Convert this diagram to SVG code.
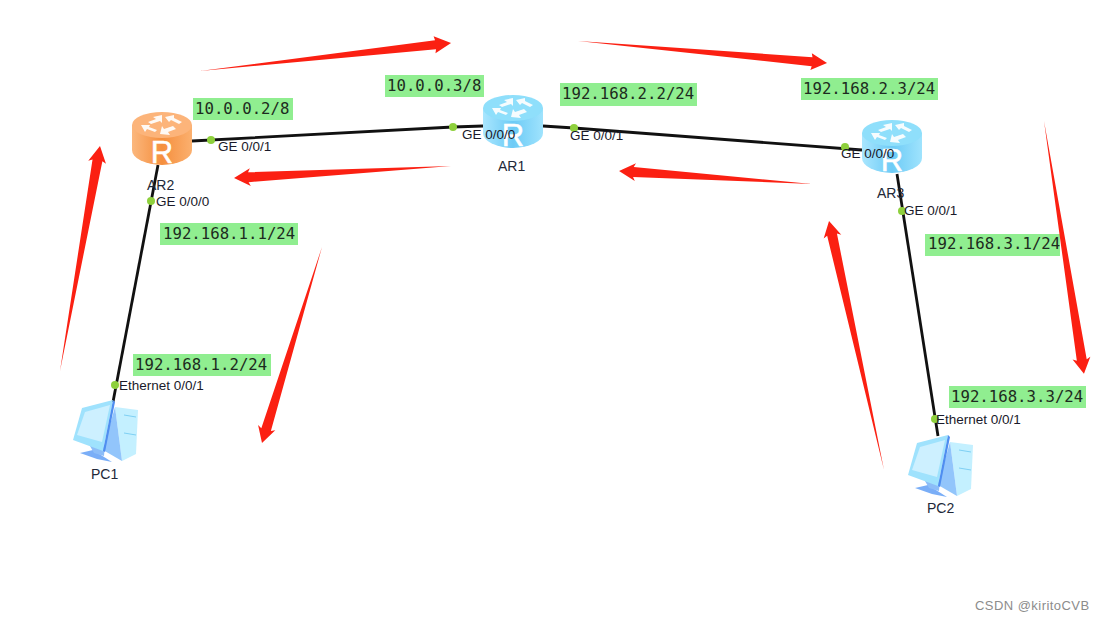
<svg xmlns="http://www.w3.org/2000/svg" width="1104" height="620" viewBox="0 0 1104 620">
<style>
.lab{fill:#90ee90}
.ip{font:15.7px "DejaVu Sans Mono","Liberation Mono",monospace;fill:#1d2b20}
.port{font:13.5px "Liberation Sans",Arial,sans-serif;fill:#1a1a2a}
.name{font:14px "Liberation Sans",Arial,sans-serif;fill:#222838}
.link{fill:none;stroke:#111;stroke-width:2.8}
.dot{fill:#8ed03c}
.arrow{fill:#fb2012}
.r{font:31px "Liberation Sans",Arial,sans-serif;fill:#fff;stroke:#fff;stroke-width:.5;text-anchor:middle}
</style>
<defs>
<linearGradient id="blueBody" x1="0" x2="1" y1="0" y2="0"><stop offset="0" stop-color="#a9e6fe"/><stop offset=".5" stop-color="#6dcbf6"/><stop offset="1" stop-color="#9fe3fd"/></linearGradient>
<linearGradient id="orangeBody" x1="0" x2="1" y1="0" y2="0"><stop offset="0" stop-color="#fbb77d"/><stop offset=".5" stop-color="#f58f3e"/><stop offset="1" stop-color="#fbb06f"/></linearGradient>
<g id="routerMark" fill="#fff" opacity=".92">
<polygon points="30,3 21,5 24,7 16,10 19,12 28,9 30,11"/>
<polygon points="33,5 42,3 42,6 50,10 47,12 39,8 37,10"/>
<polygon points="9,13 18,13 17,15 25,18 23,20 15,17 13,20"/>
<polygon points="30,14 32,17 41,14 44,17 36,20 38,23 28,22"/>
</g>
<g id="pcIcon">
<polygon points="115,407 138,410 136,454 122,461" fill="#c4f0ff"/>
<polygon points="115,407 122,461 103,450" fill="#92c5fb"/>
<polygon points="80,453 93,450 112,462 97,459" fill="#7aaef7"/>
<polygon points="90,446 105,445 104,456 94,453" fill="#8cbdf8"/>
<polygon points="73,440 82,408 113,400 103,451" fill="#9fe2fd"/>
<polygon points="77,435 85,412 110,405 102,442" fill="#cdf0ff"/>
<polygon points="113,400 115,402 105,452 103,451" fill="#4f8ef0"/>
<g stroke="#7fd0f4" stroke-width="1"><line x1="124" y1="415" x2="136" y2="417"/><line x1="124" y1="433" x2="136" y2="435"/></g>
</g>
</defs>
<rect width="1104" height="620" fill="#fff"/>
<g id="connectors">
<polyline class="link" points="192,141 453,127 483,126"/>
<polyline class="link" points="543,126 574,128 862,150"/>
<line class="link" x1="158" y1="165" x2="113" y2="402"/>
<line class="link" x1="897" y1="174" x2="938" y2="436"/>
</g>
<g id="AR2"><g transform="translate(132,112)">
<path d="M0,13V38A30,15 0 0 0 60,38V13Z" fill="url(#orangeBody)"/>
<ellipse cx="30" cy="13" rx="30" ry="13" fill="#fcb47a"/>
<use href="#routerMark"/>
<text class="r" x="30" y="51">R</text></g>
<text class="name" x="147" y="190">AR2</text></g>
<g id="AR1"><g transform="translate(483,95)">
<path d="M0,13V38A30,15 0 0 0 60,38V13Z" fill="url(#blueBody)"/>
<ellipse cx="30" cy="13" rx="30" ry="13" fill="#8fdffb"/>
<use href="#routerMark"/>
<text class="r" x="30" y="51">R</text></g>
<text class="name" x="498" y="171">AR1</text></g>
<g id="AR3"><g transform="translate(862,120)">
<path d="M0,13V38A30,15 0 0 0 60,38V13Z" fill="url(#blueBody)"/>
<ellipse cx="30" cy="13" rx="30" ry="13" fill="#8fdffb"/>
<use href="#routerMark"/>
<text class="r" x="30" y="51">R</text></g>
<text class="name" x="877" y="198">AR3</text></g>
<g id="PC1"><use href="#pcIcon"/><text class="name" x="91" y="479">PC1</text></g>
<g id="PC2"><use href="#pcIcon" x="835" y="35"/><text class="name" x="927" y="513">PC2</text></g>
<g id="ports">
<circle class="dot" cx="211" cy="140" r="4"/><circle class="dot" cx="453" cy="127" r="4"/>
<circle class="dot" cx="574" cy="128" r="4"/><circle class="dot" cx="845" cy="147" r="4"/>
<circle class="dot" cx="151" cy="201" r="4"/><circle class="dot" cx="115" cy="385" r="4"/>
<circle class="dot" cx="902" cy="211" r="4"/><circle class="dot" cx="935" cy="419" r="4"/>
<text class="port" x="218" y="151">GE 0/0/1</text>
<text class="port" x="156" y="206">GE 0/0/0</text>
<text class="port" x="119" y="390">Ethernet 0/0/1</text>
<text class="port" x="462" y="139">GE 0/0/0</text>
<text class="port" x="570" y="140">GE 0/0/1</text>
<text class="port" x="841" y="158">GE 0/0/0</text>
<text class="port" x="904" y="215">GE 0/0/1</text>
<text class="port" x="936" y="424">Ethernet 0/0/1</text>
</g>
<g id="labels">
<rect class="lab" x="193" y="98" width="100" height="22"/><text class="ip" x="195" y="114">10.0.0.2/8</text>
<rect class="lab" x="385" y="75" width="99" height="22"/><text class="ip" x="387" y="91">10.0.0.3/8</text>
<rect class="lab" x="560" y="83" width="137" height="23"/><text class="ip" x="562" y="99">192.168.2.2/24</text>
<rect class="lab" x="801" y="78" width="137" height="22"/><text class="ip" x="803" y="94">192.168.2.3/24</text>
<rect class="lab" x="160" y="223" width="138" height="22"/><text class="ip" x="163" y="239">192.168.1.1/24</text>
<rect class="lab" x="133" y="354" width="138" height="22"/><text class="ip" x="135" y="370">192.168.1.2/24</text>
<rect class="lab" x="925" y="234" width="135" height="22"/><text class="ip" x="928" y="249">192.168.3.1/24</text>
<rect class="lab" x="949" y="386" width="137" height="22"/><text class="ip" x="951" y="402">192.168.3.3/24</text>
</g>
<g id="arrows">
<polygon class="arrow" transform="translate(200,71) rotate(-6.37)" points="0,0 237,-4.5 236,-8.5 252.6,0 236,8.5 237,4.5"/>
<polygon class="arrow" transform="translate(578,41) rotate(5.05)" points="0,0 235,-4.5 234,-8.5 250,0 234,8.5 235,4.5"/>
<polygon class="arrow" transform="translate(451,166) rotate(176.83)" points="0,0 203,-5 201,-9 217.3,0 201,9 203,5"/>
<polygon class="arrow" transform="translate(812,184) rotate(183.85)" points="0,0 179,-5 177,-9 193.4,0 177,9 179,5"/>
<polygon class="arrow" transform="translate(60,371) rotate(-79.92)" points="0,0 214,-5 212,-9 228.5,0 212,9 214,5"/>
<polygon class="arrow" transform="translate(322,247) rotate(107.02)" points="0,0 191,-5 189,-9 205,0 189,9 191,5"/>
<polygon class="arrow" transform="translate(884,470) rotate(-102.45)" points="0,0 241,-5 239,-9 255,0 239,9 241,5"/>
<polygon class="arrow" transform="translate(1044,121) rotate(81.02)" points="0,0 242,-5 240,-9 256,0 240,9 242,5"/>
</g>
<text id="watermark" x="975" y="610" font-family="Liberation Sans, Arial, sans-serif" font-size="13" letter-spacing=".45" fill="#8c8c8c">CSDN @kiritoCVB</text>
</svg>
